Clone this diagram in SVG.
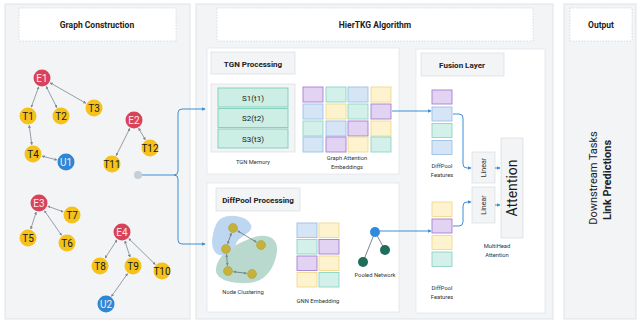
<svg xmlns="http://www.w3.org/2000/svg" width="640" height="323" viewBox="0 0 640 323">
<defs>
<style>
text{font-family:Roboto,"Noto Sans","Liberation Sans",sans-serif}
.panel{fill:#f2f4f6;stroke:#dfe4e8;stroke-width:1}
.hdr{fill:#ffffff;stroke:#d3d8dd;stroke-width:0.8;stroke-dasharray:1.5 1.5}
.box{fill:#ffffff;stroke:#e2e6ea;stroke-width:0.8}
.gbox{fill:#f2f4f6;stroke:#dde2e6;stroke-width:0.8}
.ttl{font-size:8.5px;font-weight:bold;fill:#222;text-anchor:middle}
.sub{font-size:8px;font-weight:bold;fill:#222;text-anchor:middle}
.lbl{font-size:5.8px;fill:#333;text-anchor:middle}
.E{fill:#d9435a}
.T{fill:#f5c21b}
.U{fill:#2f86d6}
.nt{font-size:10px;text-anchor:middle;fill:#1a1a1a}
.nw{font-size:10px;text-anchor:middle;fill:#fbe9ec}
.edge{stroke:#7d8791;stroke-width:0.8;fill:none;marker-start:url(#ga);marker-end:url(#ga)}
.pu{fill:#e2d3f3;stroke:#a67ed0;stroke-width:0.9}
.mi{fill:#d3f0ea;stroke:#8fd4c4;stroke-width:0.9}
.bl{fill:#d5e5f6;stroke:#9cc0e4;stroke-width:0.9}
.ye{fill:#fdf3cf;stroke:#efd98d;stroke-width:0.9}
.sbox{fill:#cdeee5;stroke:#7dcdb9;stroke-width:0.9}
.st{font-size:8px;fill:#222;text-anchor:middle}
.conn{stroke:#3b8fd6;stroke-width:1;fill:none;marker-end:url(#ba)}
.cn{fill:#c4b23c;stroke:#ad9b2f;stroke-width:0.5}
.cedge{stroke:#556068;stroke-width:0.7;fill:none;marker-start:url(#ga);marker-end:url(#ga)}
</style>
<marker id="ga" viewBox="0 0 6 6" refX="5" refY="3" markerWidth="3" markerHeight="3" orient="auto-start-reverse" markerUnits="userSpaceOnUse"><path d="M0,0 L6,3 L0,6 Z" fill="#7d8791"/></marker>
<marker id="ba" viewBox="0 0 6 6" refX="5" refY="3" markerWidth="3.5" markerHeight="3.5" orient="auto" markerUnits="userSpaceOnUse"><path d="M0,0 L6,3 L0,6 Z" fill="#3b8fd6"/></marker>
</defs>

<g id="panel-graph-construction">
<rect class="panel" x="5" y="4" width="185" height="315"/>
<rect class="hdr" x="19" y="8" width="157" height="33"/>
<text class="ttl" x="97" y="28">Graph Construction</text>
</g>
<g id="panel-hiertkg">
<rect class="panel" x="196" y="4" width="357" height="315"/>
<rect class="hdr" x="217" y="8" width="316" height="33"/>
<text class="ttl" x="375" y="28">HierTKG  Algorithm</text>
</g>
<g id="panel-output">
<rect class="panel" x="564" y="4" width="72" height="315"/>
<rect class="hdr" x="570" y="8" width="62" height="33"/>
<text class="ttl" x="601" y="28">Output</text>
<text x="597" y="178" transform="rotate(-90 597 178)" font-size="11" text-anchor="middle" fill="#222">Downstream Tasks</text>
<text x="611" y="180" transform="rotate(-90 611 180)" font-size="11" font-weight="bold" text-anchor="middle" fill="#222">Link Predictions</text>
</g>

<g id="node-tgn-processing">
<rect class="box" x="207" y="48" width="192" height="126"/>
<rect class="gbox" x="211" y="52" width="84" height="22"/>
<text class="sub" x="253" y="66.5">TGN Processing</text>
<rect class="gbox" x="211" y="84" width="84" height="68"/>
<rect class="sbox" x="218" y="88" width="70" height="19"/>
<text class="st" x="253" y="100.5">S1(t1)</text>
<rect class="sbox" x="218" y="108.5" width="70" height="19"/>
<text class="st" x="253" y="121">S2(t2)</text>
<rect class="sbox" x="218" y="129" width="70" height="19"/>
<text class="st" x="253" y="141.5">S3(t3)</text>
<text class="lbl" x="253" y="164">TGN Memory</text>
<rect class="pu" x="303" y="87" width="20" height="15"/>
<rect class="mi" x="326" y="87" width="20" height="15"/>
<rect class="bl" x="348" y="87" width="20" height="15"/>
<rect class="ye" x="371" y="87" width="20" height="15"/>
<rect class="bl" x="303" y="104" width="20" height="15"/>
<rect class="ye" x="326" y="104" width="20" height="15"/>
<rect class="mi" x="348" y="104" width="20" height="15"/>
<rect class="pu" x="371" y="104" width="20" height="15"/>
<rect class="mi" x="303" y="121" width="20" height="15"/>
<rect class="bl" x="326" y="121" width="20" height="15"/>
<rect class="pu" x="348" y="121" width="20" height="15"/>
<rect class="ye" x="371" y="121" width="20" height="15"/>
<rect class="bl" x="303" y="137" width="20" height="15"/>
<rect class="pu" x="326" y="137" width="20" height="15"/>
<rect class="ye" x="348" y="137" width="20" height="15"/>
<rect class="mi" x="371" y="137" width="20" height="15"/>
<text class="lbl" x="347" y="160">Graph Attention</text>
<text class="lbl" x="347" y="168.5">Embeddings</text>
</g>

<g id="node-diffpool-processing">
<rect class="box" x="207" y="183" width="192" height="129"/>
<rect class="gbox" x="216" y="188" width="84" height="23"/>
<text class="sub" x="258" y="202.5">DiffPool Processing</text>
<path d="M218,262 C222,252 236,244 252,238 C264,233 278,236 277,250 C276,264 268,282 248,283 C232,284 216,280 216,270 C216,266 217,264 218,262 Z" fill="#b9d9cf"/>
<path d="M222,218 C232,213 248,217 251,225 C254,233 238,236 236,244 C234,252 224,258 217,254 C210,248 212,238 214,230 C216,224 218,220 222,218 Z" fill="#bcd7ef"/>
<line class="cedge" x1="231.3" y1="233.2" x2="227.7" y2="243.8"/>
<line class="cedge" x1="237.7" y1="230.9" x2="256.3" y2="242.1"/>
<line class="cedge" x1="226.5" y1="254.5" x2="227.5" y2="265.5"/>
<line class="cedge" x1="233.5" y1="271.7" x2="246.5" y2="273.3"/>
<circle class="cn" cx="233" cy="228" r="4.5"/>
<circle class="cn" cx="226" cy="249" r="4.5"/>
<circle class="cn" cx="261" cy="245" r="4.5"/>
<circle class="cn" cx="228" cy="271" r="4.5"/>
<circle class="cn" cx="252" cy="274" r="4.5"/>
<text class="lbl" x="243" y="294">Node Clustering</text>
<rect class="bl" x="297" y="223" width="20" height="14.5"/>
<rect class="ye" x="319" y="223" width="20" height="14.5"/>
<rect class="mi" x="297" y="239.5" width="20" height="14.5"/>
<rect class="pu" x="319" y="239.5" width="20" height="14.5"/>
<rect class="pu" x="297" y="256" width="20" height="14.5"/>
<rect class="ye" x="319" y="256" width="20" height="14.5"/>
<rect class="ye" x="297" y="272.5" width="20" height="14.5"/>
<rect class="mi" x="319" y="272.5" width="20" height="14.5"/>
<text class="lbl" x="318" y="303">GNN Embedding</text>
<line x1="375" y1="232" x2="385" y2="250" stroke="#445058" stroke-width="0.7"/>
<line x1="375" y1="232" x2="363" y2="262" stroke="#445058" stroke-width="0.7" marker-end="url(#ga)"/>
<circle cx="375" cy="232" r="5" fill="#2e8ae0"/>
<circle cx="385" cy="250" r="5" fill="#1f6e5c"/>
<circle cx="363" cy="262" r="5" fill="#1f6e5c"/>
<text class="lbl" x="375" y="277">Pooled Network</text>
</g>

<g id="node-fusion-layer">
<rect class="box" x="416" y="49" width="129" height="264"/>
<rect class="gbox" x="421" y="53" width="83" height="23"/>
<text class="sub" x="462" y="67.5">Fusion Layer</text>
<rect class="pu" x="432" y="90" width="20" height="14"/>
<rect class="bl" x="432" y="107" width="20" height="14"/>
<rect class="mi" x="432" y="123.5" width="20" height="14"/>
<rect class="bl" x="432" y="140.5" width="20" height="14"/>
<text class="lbl" x="442" y="168">DiffPool</text>
<text class="lbl" x="442" y="176.5">Features</text>
<rect class="ye" x="432" y="202" width="20" height="14.5"/>
<rect class="pu" x="432" y="219" width="20" height="14"/>
<rect class="ye" x="432" y="235.5" width="20" height="14"/>
<rect class="mi" x="432" y="252" width="20" height="14.5"/>
<text class="lbl" x="442" y="290">DiffPool</text>
<text class="lbl" x="442" y="298.5">Features</text>
<rect class="gbox" x="472" y="152" width="23" height="31"/>
<text x="485.5" y="167.5" transform="rotate(-90 485.5 167.5)" font-size="7" text-anchor="middle" fill="#333">Linear</text>
<rect class="gbox" x="472" y="187" width="23" height="36"/>
<text x="485.5" y="205" transform="rotate(-90 485.5 205)" font-size="7" text-anchor="middle" fill="#333">Linear</text>
<rect class="gbox" x="501" y="138" width="22" height="100"/>
<text x="517" y="188" transform="rotate(-90 517 188)" font-size="14" text-anchor="middle" fill="#1a1a1a">Attention</text>
<text class="lbl" x="497" y="248">MultiHead</text>
<text class="lbl" x="497" y="256.5">Attention</text>
</g>

<g id="connectors">
<line class="edge" x1="38.7" y1="86.9" x2="31.3" y2="107.1"/>
<line class="edge" x1="46.2" y1="86.5" x2="56.8" y2="107.5"/>
<line class="edge" x1="50.2" y1="82.8" x2="85.8" y2="103.2"/>
<line class="edge" x1="29.2" y1="125.4" x2="31.8" y2="144.6"/>
<line class="edge" x1="42.2" y1="156.2" x2="56.8" y2="159.8"/>
<line class="edge" x1="129.8" y1="128.5" x2="116.2" y2="155.5"/>
<line class="edge" x1="138.7" y1="128.2" x2="145.3" y2="139.8"/>
<line class="edge" x1="36.2" y1="212.1" x2="30.8" y2="228.9"/>
<line class="edge" x1="47.9" y1="206.2" x2="63.1" y2="211.8"/>
<line class="edge" x1="44.5" y1="210.8" x2="61.5" y2="235.2"/>
<line class="edge" x1="116.8" y1="240" x2="105.2" y2="258"/>
<line class="edge" x1="124.9" y1="241" x2="130.1" y2="257"/>
<line class="edge" x1="128.8" y1="238.6" x2="155.2" y2="264.4"/>
<line class="edge" x1="127.5" y1="273.7" x2="111.5" y2="296.3"/>
<circle cx="138" cy="175" r="4" fill="#c6ced6"/>
<path class="conn" d="M142,175 H174 Q178,175 178,171 V113 Q178,109 182,109 H205"/>
<path class="conn" d="M174,175 Q178,175 178,179 V240 Q178,244 182,244 H205"/>
<path class="conn" d="M392,111 H431"/>
<path class="conn" d="M380,231 H431"/>
<path class="conn" d="M453,114 H459 Q463,114 463,118 V164 Q463,168 467,168 H471"/>
<path class="conn" d="M453,226 H459 Q463,226 463,222 V206 Q463,202 467,202 H471"/>
<path class="conn" d="M495,168 H500"/>
<path class="conn" d="M495,205 H500"/>
</g>

<g id="node-E1"><circle class="E" cx="42" cy="78" r="8.5"/><text class="nw" x="42" y="81.5">E1</text></g>
<g id="node-T1"><circle class="T" cx="28" cy="116" r="8.5"/><text class="nt" x="28" y="119.5">T1</text></g>
<g id="node-T2"><circle class="T" cx="61" cy="116" r="8.5"/><text class="nt" x="61" y="119.5">T2</text></g>
<g id="node-T3"><circle class="T" cx="94" cy="108" r="8.5"/><text class="nt" x="94" y="111.5">T3</text></g>
<g id="node-T4"><circle class="T" cx="33" cy="154" r="8.5"/><text class="nt" x="33" y="157.5">T4</text></g>
<g id="node-U1"><circle class="U" cx="66" cy="162" r="8.5"/><text class="nw" x="66" y="165.5">U1</text></g>
<g id="node-E2"><circle class="E" cx="134" cy="120" r="8.5"/><text class="nw" x="134" y="123.5">E2</text></g>
<g id="node-T12"><circle class="T" cx="150" cy="148" r="8.5"/><text class="nt" x="150" y="151.5">T12</text></g>
<g id="node-T11"><circle class="T" cx="112" cy="164" r="8.5"/><text class="nt" x="112" y="167.5">T11</text></g>
<g id="node-E3"><circle class="E" cx="39" cy="203" r="8.5"/><text class="nw" x="39" y="206.5">E3</text></g>
<g id="node-T7"><circle class="T" cx="72" cy="215" r="8.5"/><text class="nt" x="72" y="218.5">T7</text></g>
<g id="node-T5"><circle class="T" cx="28" cy="238" r="8.5"/><text class="nt" x="28" y="241.5">T5</text></g>
<g id="node-T6"><circle class="T" cx="67" cy="243" r="8.5"/><text class="nt" x="67" y="246.5">T6</text></g>
<g id="node-E4"><circle class="E" cx="122" cy="232" r="8.5"/><text class="nw" x="122" y="235.5">E4</text></g>
<g id="node-T8"><circle class="T" cx="100" cy="266" r="8.5"/><text class="nt" x="100" y="269.5">T8</text></g>
<g id="node-T9"><circle class="T" cx="133" cy="266" r="8.5"/><text class="nt" x="133" y="269.5">T9</text></g>
<g id="node-T10"><circle class="T" cx="162" cy="271" r="8.5"/><text class="nt" x="162" y="274.5">T10</text></g>
<g id="node-U2"><circle class="U" cx="106" cy="304" r="8.5"/><text class="nw" x="106" y="307.5">U2</text></g>
</svg>
